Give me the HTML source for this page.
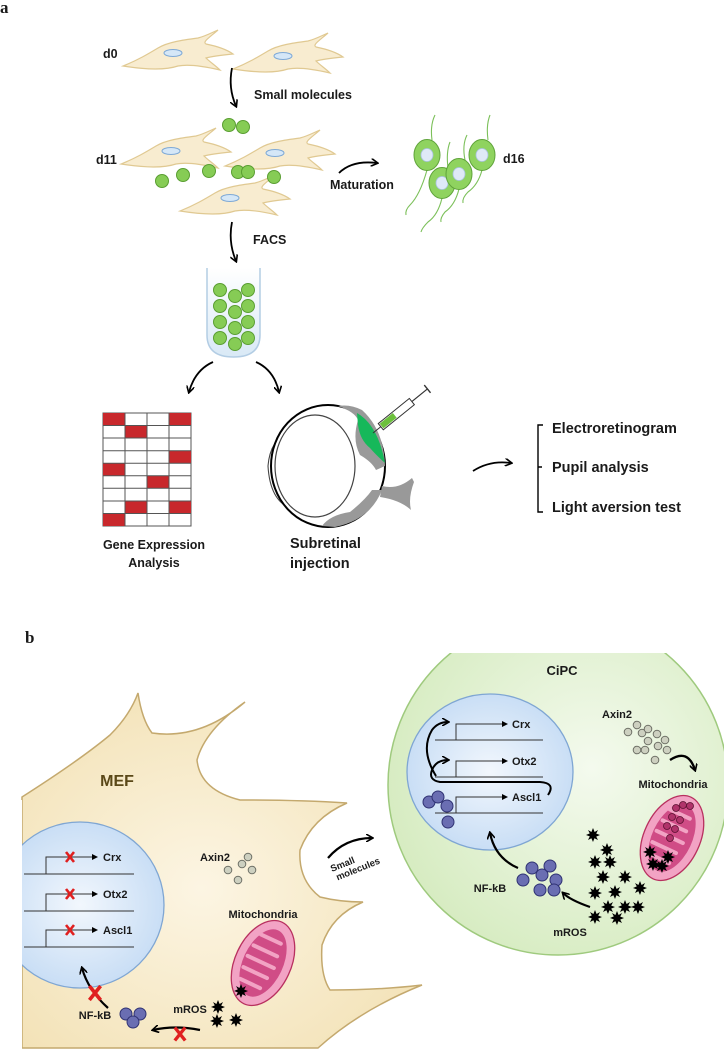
<!DOCTYPE html>
<html><head><meta charset="utf-8">
<style>
html,body{margin:0;padding:0;background:#fff;}
svg{display:block;}
text{font-family:"Liberation Sans",sans-serif;font-weight:bold;fill:#1a1a1a;}
</style></head>
<body>
<svg width="724" height="1050" viewBox="0 0 724 1050" xmlns="http://www.w3.org/2000/svg">
<defs>
  <marker id="ah" markerWidth="8" markerHeight="8" refX="6" refY="4" orient="auto" markerUnits="userSpaceOnUse">
    <path d="M0,0 L7,4 L0,8" fill="none" stroke="#000" stroke-width="1.6"/>
  </marker>
  <marker id="ahs" markerWidth="6" markerHeight="6" refX="5" refY="3" orient="auto" markerUnits="userSpaceOnUse">
    <path d="M0,0 L6,3 L0,6 Z" fill="#000"/>
  </marker>
  <g id="fib">
    <path d="M-55,14 C-40,8 -30,2 -20,-4 C-10,-10 5,-12 20,-14 C28,-16 35,-20 40,-22 C32,-15 24,-10 28,-8 C38,-6 48,-3 55,2 C45,3 35,4 28,6 C32,10 38,14 42,18 C25,14 10,12 0,14 C-12,18 -30,18 -55,14 Z" fill="#f8ecd0" stroke="#e0c992" stroke-width="1.2"/>
    <ellipse cx="-5" cy="1" rx="9" ry="3.5" fill="#d5e7f7" stroke="#7ea9d6" stroke-width="1"/>
  </g>
  <g id="gb"><circle r="6.5" fill="#86cc55" stroke="#5a9e32" stroke-width="1"/></g>
  <g id="d16c">
    <ellipse rx="13" ry="15.5" fill="#8fd35f" stroke="#5fa33a" stroke-width="1"/>
    <ellipse cx="0" cy="0" rx="6" ry="6.5" fill="#dfe9f7" stroke="#a9c2e0" stroke-width="0.8"/>
  </g>
  <g id="star"><polygon points="0,-7 1.6,-3 5,-5 3.2,-1.4 7,0 3.2,1.6 5,5 1.4,3.2 0,7 -1.6,3.2 -5,5 -3.2,1.4 -7,0 -3.2,-1.6 -5,-5 -1.6,-3" fill="#000"/></g>
  <g id="nf"><circle r="6" fill="#6a6eb2" stroke="#2f3273" stroke-width="1"/></g>
  <g id="ax"><circle r="3.8" fill="#cdd0c0" stroke="#6e7066" stroke-width="1"/></g>
  <g id="rx"><path d="M-4,-5 L4,5 M4,-5 L-4,5" stroke="#e02020" stroke-width="2.6"/></g>
  <radialGradient id="nucg" cx="0.5" cy="0.5" r="0.5"><stop offset="0" stop-color="#f2f7fd"/><stop offset="1" stop-color="#c9def5"/></radialGradient>
  <radialGradient id="cipg" cx="0.6" cy="0.45" r="0.6"><stop offset="0" stop-color="#f4faee"/><stop offset="1" stop-color="#d7ecc2"/></radialGradient>
  <radialGradient id="mefg" cx="0.45" cy="0.55" r="0.7"><stop offset="0" stop-color="#fcf5e3"/><stop offset="1" stop-color="#f2e0b2"/></radialGradient>
  <linearGradient id="tubeg" x1="0" y1="0" x2="0" y2="1"><stop offset="0" stop-color="#fff"/><stop offset="1" stop-color="#d9e9f6"/></linearGradient>
  <clipPath id="cipclip"><rect x="0" y="653" width="724" height="400"/></clipPath>
</defs>

<!-- ===== Panel a ===== -->
<text x="0" y="13" style="font-family:'Liberation Serif',serif;font-size:17px">a</text>

<text x="103" y="58" font-size="12.5">d0</text>
<use href="#fib" x="178" y="52"/>
<use href="#fib" x="288" y="55"/>

<path d="M232,68 Q228,88 236,106" fill="none" stroke="#000" stroke-width="1.8" marker-end="url(#ah)"/>
<text x="254" y="99" font-size="12.5">Small molecules</text>

<use href="#gb" x="229" y="125"/><use href="#gb" x="243" y="127"/>
<text x="96" y="164" font-size="12.5">d11</text>
<use href="#fib" x="176" y="150"/>
<use href="#fib" x="280" y="152"/>
<use href="#fib" x="235" y="197"/>
<use href="#gb" x="162" y="181"/><use href="#gb" x="183" y="175"/><use href="#gb" x="209" y="171"/>
<use href="#gb" x="238" y="172"/><use href="#gb" x="248" y="172"/><use href="#gb" x="274" y="177"/>

<path d="M339,173 Q352,160 377,163" fill="none" stroke="#000" stroke-width="1.8" marker-end="url(#ah)"/>
<text x="330" y="189" font-size="12.5">Maturation</text>

<!-- d16 -->
<g fill="none" stroke="#7cc05a" stroke-width="1.1">
  <path d="M427,170 Q420,195 410,205 Q405,210 406,215"/>
  <path d="M442,198 Q438,215 428,222 Q422,228 421,232"/>
  <path d="M459,189 Q455,205 445,212 Q440,218 441,222"/>
  <path d="M482,170 Q478,185 468,192 Q462,198 463,203"/>
  <path d="M432,140 Q430,125 435,115"/>
  <path d="M448,168 Q446,152 450,142"/>
  <path d="M465,160 Q462,145 467,135"/>
  <path d="M488,140 Q486,125 490,115"/>
</g>
<use href="#d16c" x="427" y="155"/>
<use href="#d16c" x="442" y="183"/>
<use href="#d16c" x="459" y="174"/>
<use href="#d16c" x="482" y="155"/>
<text x="503" y="163" font-size="12.5">d16</text>

<path d="M232,222 Q228,242 236,261" fill="none" stroke="#000" stroke-width="1.8" marker-end="url(#ah)"/>
<text x="253" y="244" font-size="12.5">FACS</text>

<!-- tube -->
<path d="M207,268 L207,335 Q207,357 233.5,357 Q260,357 260,335 L260,268" fill="url(#tubeg)" stroke="#b3cde4" stroke-width="1.5"/>
<use href="#gb" x="220" y="290"/><use href="#gb" x="235" y="296"/><use href="#gb" x="248" y="290"/>
<use href="#gb" x="220" y="306"/><use href="#gb" x="235" y="312"/><use href="#gb" x="248" y="306"/>
<use href="#gb" x="220" y="322"/><use href="#gb" x="235" y="328"/><use href="#gb" x="248" y="322"/>
<use href="#gb" x="220" y="338"/><use href="#gb" x="235" y="344"/><use href="#gb" x="248" y="338"/>

<path d="M213,362 Q195,370 189,392" fill="none" stroke="#000" stroke-width="1.8" marker-end="url(#ah)"/>
<path d="M256,362 Q274,370 279,392" fill="none" stroke="#000" stroke-width="1.8" marker-end="url(#ah)"/>

<!-- grid -->
<g>
  <rect x="103" y="413" width="88" height="113" fill="#fff" stroke="#555" stroke-width="1"/>
  <g fill="#c8282c">
    <rect x="103" y="413" width="22" height="12.5"/><rect x="169" y="413" width="22" height="12.5"/>
    <rect x="125" y="425.5" width="22" height="12.5"/>
    <rect x="169" y="450.7" width="22" height="12.5"/>
    <rect x="103" y="463.2" width="22" height="12.5"/>
    <rect x="147" y="475.8" width="22" height="12.5"/>
    <rect x="125" y="501" width="22" height="12.5"/><rect x="169" y="501" width="22" height="12.5"/>
    <rect x="103" y="513.5" width="22" height="12.5"/>
  </g>
  <g stroke="#555" stroke-width="1">
    <line x1="125" y1="413" x2="125" y2="526"/><line x1="147" y1="413" x2="147" y2="526"/><line x1="169" y1="413" x2="169" y2="526"/>
    <line x1="103" y1="425.5" x2="191" y2="425.5"/><line x1="103" y1="438" x2="191" y2="438"/><line x1="103" y1="450.7" x2="191" y2="450.7"/>
    <line x1="103" y1="463.2" x2="191" y2="463.2"/><line x1="103" y1="475.8" x2="191" y2="475.8"/><line x1="103" y1="488.3" x2="191" y2="488.3"/>
    <line x1="103" y1="501" x2="191" y2="501"/><line x1="103" y1="513.5" x2="191" y2="513.5"/>
  </g>
</g>
<text x="154" y="549" font-size="12.5" text-anchor="middle">Gene Expression</text>
<text x="154" y="567" font-size="12.5" text-anchor="middle">Analysis</text>

<!-- eye -->
<path d="M290,430 Q270,440 268,466 Q270,500 290,508" fill="none" stroke="#444" stroke-width="1.1"/>
<ellipse cx="328" cy="466" rx="57" ry="61" fill="#fff" stroke="#000" stroke-width="2"/>
<path d="M338,406 Q355,412 358,420 Q352,440 360,455 Q372,462 376,470 L385,466 Q384,430 362,410 Q350,404 338,406 Z" fill="#999"/>
<path d="M357,413 Q378,425 385,463 Q376,455 370,448 Q360,440 358,425 Z" fill="#16b85a"/>
<path d="M322,526 Q330,515 350,512 Q365,500 372,490 L382,490 Q370,520 335,527 Z" fill="#999"/>
<path d="M382,486 Q398,490 412,478 L414,482 Q408,498 411,510 Q400,500 380,497 Z" fill="#999"/>
<ellipse cx="315" cy="466" rx="40" ry="51" fill="#fff" stroke="#444" stroke-width="1.2"/>
<!-- syringe -->
<g transform="translate(373,433) rotate(-39)">
  <line x1="0" y1="0" x2="10" y2="0" stroke="#333" stroke-width="1"/>
  <rect x="10" y="-4" width="40" height="8" fill="#fff" stroke="#333" stroke-width="1"/>
  <rect x="11" y="-3" width="17" height="6" fill="#6cc03c"/>
  <line x1="50" y1="0" x2="70" y2="0" stroke="#333" stroke-width="1.2"/>
  <line x1="70" y1="-5" x2="70" y2="5" stroke="#333" stroke-width="1.4"/>
</g>
<text x="290" y="548" font-size="14.5">Subretinal</text>
<text x="290" y="568" font-size="14.5">injection</text>

<path d="M473,471 Q490,460 511,463" fill="none" stroke="#000" stroke-width="1.8" marker-end="url(#ah)"/>
<path d="M543,425 L538,425 L538,512 L543,512 M538,467 L542,467" fill="none" stroke="#000" stroke-width="1.4"/>
<text x="552" y="433" font-size="14.5">Electroretinogram</text>
<text x="552" y="472" font-size="14.5">Pupil analysis</text>
<text x="552" y="512" font-size="14.5">Light aversion test</text>

<!-- ===== Panel b ===== -->
<text x="25" y="643" style="font-family:'Liberation Serif',serif;font-size:17px">b</text>

<!-- MEF cell -->
<path d="M22,797 Q80,760 110,735 Q130,715 138,693 Q142,720 152,733 Q200,740 245,702 Q205,730 197,760 Q200,790 240,800 Q300,800 347,803 Q312,818 300,850 Q298,880 320,897 Q340,902 363,902 Q332,915 322,945 Q320,975 330,990 Q380,990 422,985 Q360,1010 318,1048 L22,1048 Z" fill="url(#mefg)" stroke="#c4a96e" stroke-width="1.5"/>
<text x="117" y="786" font-size="16" fill="#5a4818" text-anchor="middle" style="fill:#5a4818">MEF</text>

<ellipse cx="80" cy="905" rx="84" ry="83" fill="url(#nucg)" stroke="#7fa6d3" stroke-width="1.3"/>
<rect x="0" y="800" width="22" height="250" fill="#fff"/>
<g stroke="#333" stroke-width="1" fill="none">
  <line x1="24" y1="874" x2="134" y2="874"/><line x1="24" y1="911" x2="134" y2="911"/><line x1="24" y1="947" x2="134" y2="947"/>
  <path d="M46,874 V857 H97" marker-end="url(#ahs)"/>
  <path d="M46,911 V894 H97" marker-end="url(#ahs)"/>
  <path d="M46,947 V930 H97" marker-end="url(#ahs)"/>
</g>
<use href="#rx" x="70" y="857"/><use href="#rx" x="70" y="894"/><use href="#rx" x="70" y="930"/>
<text x="103" y="861" font-size="11">Crx</text>
<text x="103" y="898" font-size="11">Otx2</text>
<text x="103" y="934" font-size="11">Ascl1</text>

<text x="200" y="861" font-size="11">Axin2</text>
<use href="#ax" x="228" y="870"/><use href="#ax" x="242" y="864"/><use href="#ax" x="248" y="857"/><use href="#ax" x="252" y="870"/><use href="#ax" x="238" y="880"/>
<text x="263" y="918" font-size="11" text-anchor="middle">Mitochondria</text>
<g transform="translate(263,963) rotate(25)">
  <ellipse rx="28" ry="45" fill="#f2a3c4" stroke="#b8305f" stroke-width="1.3"/>
  <ellipse rx="20" ry="36" fill="#d04c86"/>
  <path d="M-14,-25 H8 M-16,-12 H10 M-17,0 H12 M-16,12 H10 M-14,24 H8" stroke="#f2a3c4" stroke-width="4" stroke-linecap="round"/>
</g>
<use href="#star" x="241" y="991"/>
<text x="190" y="1013" font-size="11" text-anchor="middle">mROS</text>
<use href="#star" x="218" y="1007"/><use href="#star" x="217" y="1021"/><use href="#star" x="236" y="1020"/>
<text x="95" y="1019" font-size="11" text-anchor="middle">NF-kB</text>
<use href="#nf" x="126" y="1014"/><use href="#nf" x="140" y="1014"/><use href="#nf" x="133" y="1022"/>
<path d="M108,1008 Q88,990 82,968" fill="none" stroke="#000" stroke-width="2.2" marker-end="url(#ah)"/>
<use href="#rx" x="95" y="993" transform="translate(95,993) scale(1.4) translate(-95,-993)"/>
<path d="M200,1030 Q175,1025 153,1030" fill="none" stroke="#000" stroke-width="2.2" marker-end="url(#ah)"/>
<use href="#rx" x="180" y="1034" transform="translate(180,1034) scale(1.3) translate(-180,-1034)"/>

<path d="M328,858 Q345,838 372,838" fill="none" stroke="#000" stroke-width="2.2" marker-end="url(#ah)"/>
<g transform="translate(332,872) rotate(-22)">
  <text x="0" y="0" font-size="9.5">Small</text>
  <text x="2" y="10" font-size="9.5">molecules</text>
</g>

<!-- CiPC -->
<circle cx="558" cy="785" r="170" fill="url(#cipg)" stroke="#9fca7e" stroke-width="1.5" clip-path="url(#cipclip)"/>
<text x="562" y="675" font-size="13" text-anchor="middle">CiPC</text>
<ellipse cx="490" cy="772" rx="83" ry="78" fill="url(#nucg)" stroke="#7fa6d3" stroke-width="1.3"/>
<g stroke="#333" stroke-width="1" fill="none">
  <line x1="435" y1="740" x2="543" y2="740"/><line x1="435" y1="777" x2="543" y2="777"/><line x1="435" y1="813" x2="543" y2="813"/>
  <path d="M456,740 V724 H507" marker-end="url(#ahs)"/>
  <path d="M456,777 V761 H507" marker-end="url(#ahs)"/>
  <path d="M456,813 V797 H507" marker-end="url(#ahs)"/>
</g>
<text x="512" y="728" font-size="11">Crx</text>
<text x="512" y="765" font-size="11">Otx2</text>
<text x="512" y="801" font-size="11">Ascl1</text>
<g fill="none" stroke="#000" stroke-width="2">
  <path d="M548,795 Q556,783 540,782 L440,782 Q428,780 432,770 Q436,760 448,760" marker-end="url(#ah)"/>
  <path d="M436,776 Q420,750 432,730 Q438,722 448,722" marker-end="url(#ah)"/>
</g>
<use href="#nf" x="429" y="802"/><use href="#nf" x="438" y="797"/><use href="#nf" x="447" y="806"/><use href="#nf" x="448" y="822"/>
<path d="M518,868 Q495,858 490,833" fill="none" stroke="#000" stroke-width="2.2" marker-end="url(#ah)"/>
<text x="490" y="892" font-size="11" text-anchor="middle">NF-kB</text>
<use href="#nf" x="523" y="880"/><use href="#nf" x="532" y="868"/><use href="#nf" x="542" y="875"/><use href="#nf" x="550" y="866"/><use href="#nf" x="556" y="880"/><use href="#nf" x="540" y="890"/><use href="#nf" x="554" y="890"/>
<path d="M590,907 Q570,900 563,893" fill="none" stroke="#000" stroke-width="2.2" marker-end="url(#ah)"/>
<text x="570" y="936" font-size="11" text-anchor="middle">mROS</text>
<use href="#star" x="593" y="835"/><use href="#star" x="607" y="850"/><use href="#star" x="595" y="862"/><use href="#star" x="610" y="862"/>
<use href="#star" x="603" y="877"/><use href="#star" x="625" y="877"/><use href="#star" x="595" y="893"/><use href="#star" x="615" y="892"/>
<use href="#star" x="640" y="888"/><use href="#star" x="608" y="907"/><use href="#star" x="625" y="907"/><use href="#star" x="638" y="907"/>
<use href="#star" x="595" y="917"/><use href="#star" x="617" y="918"/>

<text x="617" y="718" font-size="11" text-anchor="middle">Axin2</text>
<use href="#ax" x="628" y="732"/><use href="#ax" x="637" y="725"/><use href="#ax" x="642" y="733"/><use href="#ax" x="648" y="729"/>
<use href="#ax" x="657" y="734"/><use href="#ax" x="648" y="741"/><use href="#ax" x="665" y="740"/><use href="#ax" x="658" y="746"/>
<use href="#ax" x="637" y="750"/><use href="#ax" x="645" y="750"/><use href="#ax" x="667" y="750"/><use href="#ax" x="655" y="760"/>
<path d="M670,760 Q688,748 695,770" fill="none" stroke="#000" stroke-width="2.4" marker-end="url(#ah)"/>
<text x="673" y="788" font-size="11" text-anchor="middle">Mitochondria</text>
<g transform="translate(672,838) rotate(25)">
  <ellipse rx="28" ry="45" fill="#f2a3c4" stroke="#b8305f" stroke-width="1.3"/>
  <ellipse rx="20" ry="36" fill="#d04c86"/>
  <path d="M-14,-25 H8 M-16,-12 H10 M-17,0 H12 M-16,12 H10 M-14,24 H8" stroke="#f2a3c4" stroke-width="4" stroke-linecap="round"/>
</g>
<g fill="#b0336a" stroke="#5a1030" stroke-width="0.8">
  <circle cx="683" cy="805" r="3.5"/><circle cx="690" cy="806" r="3.5"/><circle cx="676" cy="808" r="3.5"/>
  <circle cx="672" cy="817" r="3.5"/><circle cx="680" cy="820" r="3.5"/><circle cx="667" cy="826" r="3.5"/><circle cx="675" cy="829" r="3.5"/><circle cx="670" cy="838" r="3.5"/>
</g>
<use href="#star" x="650" y="852"/><use href="#star" x="653" y="864"/><use href="#star" x="668" y="857"/><use href="#star" x="662" y="866"/>
</svg>
</body></html>
